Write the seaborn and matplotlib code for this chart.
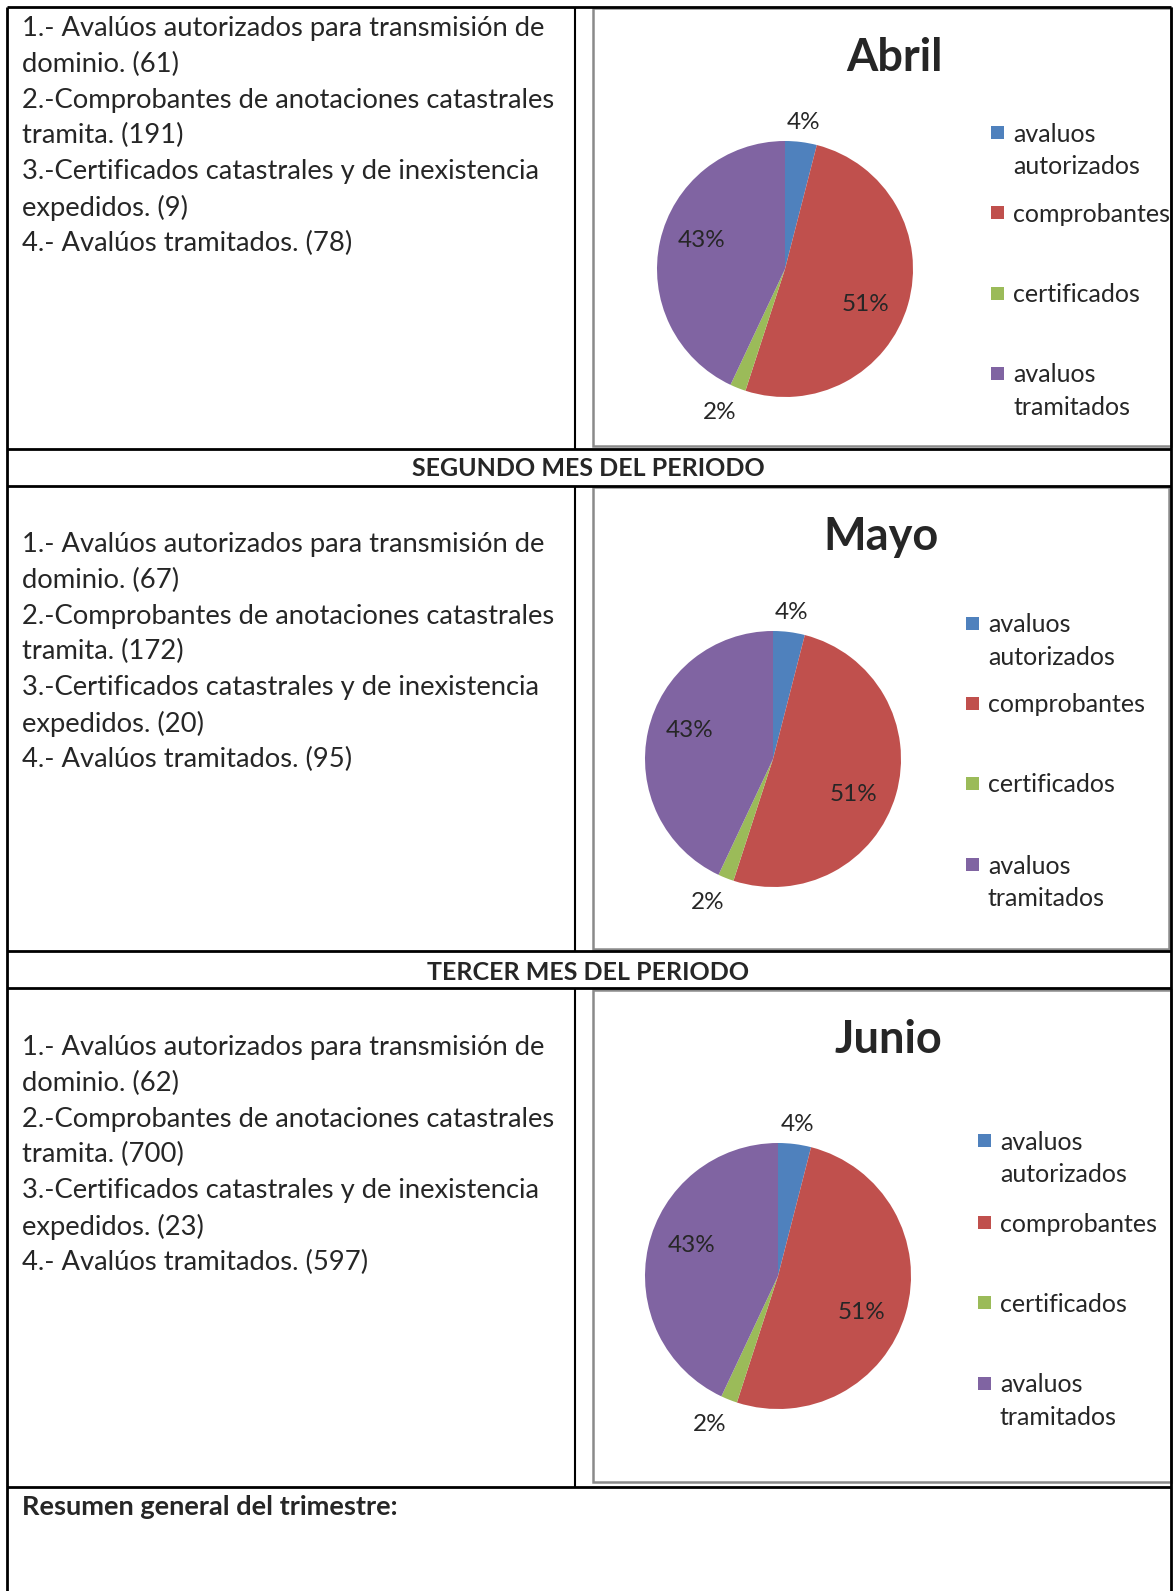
import matplotlib
matplotlib.use("Agg")
import matplotlib.pyplot as plt
from matplotlib.patches import Rectangle
import seaborn as sns
import numpy as np

# ---- data ----
months = ['Abril', 'Mayo', 'Junio']
avaluos_autorizados = [61, 67, 62]
comprobantes = [191, 172, 700]
certificados = [9, 20, 23]
avaluos_tramitados = [78, 95, 597]

# percentages shown in the pies (same for the three months)
pie_shares = [[4, 51, 2, 43], [4, 51, 2, 43], [4, 51, 2, 43]]
slice_names = ['avaluos autorizados', 'comprobantes', 'certificados', 'avaluos tramitados']
slice_colors = ['#4F81BD', '#C0504D', '#9BBB59', '#8064A2']

headers = ['SEGUNDO MES DEL PERIODO', 'TERCER MES DEL PERIODO']

sns.set_theme(style="white")
plt.rcParams['font.family'] = ['Lato', 'DejaVu Sans']

W, H = 1175, 1591
fig = plt.figure(figsize=(W / 100, H / 100), dpi=100)
bg = fig.add_axes([0, 0, 1, 1])
bg.set_xlim(0, W)
bg.set_ylim(H, 0)
bg.axis('off')

# ---- table grid ----
L, R, T, B = 7, 1171, 7, H + 5
div_x = 575
row_top = [7, 486, 988]
row_bot = [448.5, 951, 1486.5]
bg.vlines([L, R], T, B, color='black', lw=2)
bg.hlines([T, 448.5, 486, 951, 988, 1486.5], L, R, color='black', lw=2)
for t, b in zip(row_top, row_bot):
    bg.vlines(div_x, t, b, color='black', lw=1.5)

bg.text(588, 469, headers[0], ha='center', va='center', fontsize=18, fontweight='bold')
bg.text(588, 972, headers[1], ha='center', va='center', fontsize=18, fontweight='bold')
bg.text(22, 1507, 'Resumen general del trimestre:', ha='left', va='center',
        fontsize=19.5, fontweight='bold')

# ---- layout for each month ----
frames = [(593, 8, 1171, 446), (593, 487, 1169, 949), (593, 990, 1171, 1482)]
pie_centers = [(785, 269, 128), (773, 759, 128), (778, 1276, 133)]
title_pos = [(895, 58), (881, 537), (888, 1040)]
legend_pos = [(997, [132, 212, 293, 373]), (972, [623, 703, 783, 864]),
              (984, [1140, 1222, 1302, 1383])]
text_top = [26, 542, 1045]
label_dist = [1.15, 0.69, 1.23, 0.69]
label_shift = [0, -7.5, -3, -6.5]

for i, month in enumerate(months):
    # left column text
    lines = [
        '1.- Avalúos autorizados para transmisión de',
        f'dominio. ({avaluos_autorizados[i]})',
        '2.-Comprobantes de anotaciones catastrales',
        f'tramita. ({comprobantes[i]})',
        '3.-Certificados catastrales y de inexistencia',
        f'expedidos. ({certificados[i]})',
        f'4.- Avalúos tramitados. ({avaluos_tramitados[i]})',
    ]
    for j, line in enumerate(lines):
        bg.text(22, text_top[i] + j * 35.8, line, ha='left', va='center_baseline', fontsize=19.7)

    # chart frame
    x0, y0, x1, y1 = frames[i]
    bg.add_patch(Rectangle((x0, y0), x1 - x0, y1 - y0, fill=False, edgecolor='#8a8a8a', lw=1.8))

    # title
    bg.text(title_pos[i][0], title_pos[i][1], month, ha='center', va='center',
            fontsize=32.5, fontweight='bold')

    # pie
    cx, cy, r = pie_centers[i]
    ax = fig.add_axes([(cx - 1.5 * r) / W, 1 - (cy + 1.5 * r) / H, 3 * r / W, 3 * r / H])
    wedges, _ = ax.pie(pie_shares[i], colors=slice_colors, startangle=90, counterclock=False,
                       radius=1, wedgeprops=dict(linewidth=0))
    ax.set_xlim(-1.5, 1.5)
    ax.set_ylim(-1.5, 1.5)
    ax.set_aspect('equal')
    ax.axis('off')
    for w, share, d, s in zip(wedges, pie_shares[i], label_dist, label_shift):
        ang = np.deg2rad((w.theta1 + w.theta2) / 2 + s)
        ax.text(d * np.cos(ang), d * np.sin(ang), f'{share}%', ha='center', va='center',
                fontsize=17.5)

    # legend
    lx, ly = legend_pos[i]
    for name, color, y in zip(slice_names, slice_colors, ly):
        bg.add_patch(Rectangle((lx - 6.5, y - 6.5), 13, 13, facecolor=color, edgecolor='none'))
        parts = name.split(' ') if name.startswith('avaluos') else [name]
        for k, p in enumerate(parts):
            bg.text(lx + 16, y + k * 32.5, p, ha='left', va='center_baseline', fontsize=18)

fig.savefig('out.png', dpi=100)
